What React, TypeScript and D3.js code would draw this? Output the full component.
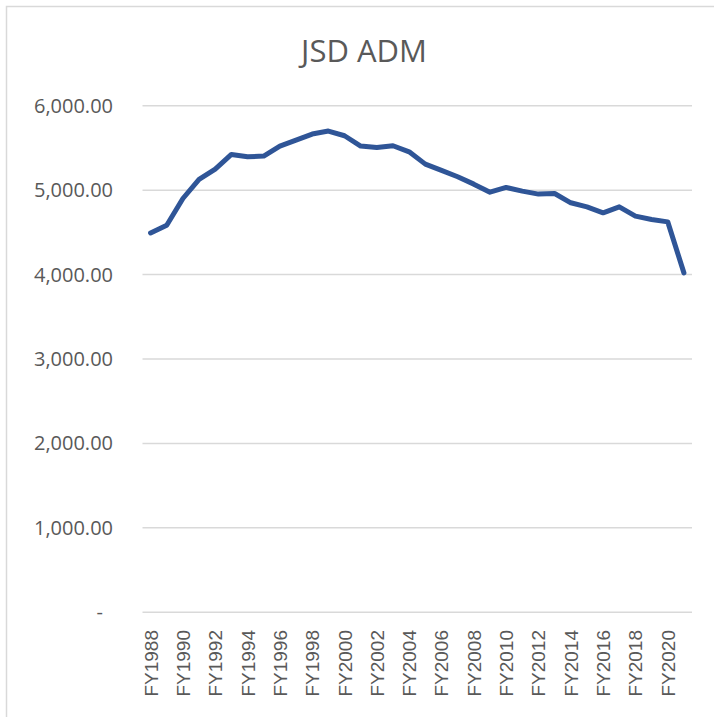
import { useEffect, useRef } from "react";
import * as d3 from "d3";

const years = d3.range(1988, 2022).map((y) => `FY${y}`);

const adm = [
  4493, 4585, 4901, 5127, 5249, 5423, 5395, 5403, 5522, 5593, 5664, 5700,
  5644, 5522, 5506, 5526, 5454, 5308, 5234, 5158, 5071, 4976, 5032, 4988,
  4953, 4960, 4850, 4802, 4731, 4802, 4692, 4652, 4624, 4020,
];

const yTicks = [0, 1000, 2000, 3000, 4000, 5000, 6000];

const W = 714;
const H = 717;

export default function App() {
  const svgRef = useRef<SVGSVGElement>(null);

  useEffect(() => {
    if (!svgRef.current) return;
    const svg = d3.select(svgRef.current);
    svg.selectAll("*").remove();

    // plot area
    const left = 142.5;
    const right = 692;
    const top = 105.7;
    const bottom = 612.3;

    const x = d3.scaleBand<string>().domain(years).range([left, right]);
    const y = d3.scaleLinear().domain([0, 6000]).range([bottom, top]);

    svg.append("rect").attr("width", W).attr("height", H).attr("fill", "white");

    // chart border
    svg
      .append("rect")
      .attr("x", 6.5)
      .attr("y", 6.5)
      .attr("width", W + 20)
      .attr("height", H + 20)
      .attr("fill", "none")
      .attr("stroke", "#d9d9d9")
      .attr("stroke-width", 1.5);

    // title
    svg
      .append("text")
      .attr("x", 364)
      .attr("y", 62)
      .attr("text-anchor", "middle")
      .attr("font-family", "'Open Sans', sans-serif")
      .attr("font-size", 31)
      .attr("fill", "#595959")
      .text("JSD ADM");

    // gridlines
    svg
      .append("g")
      .selectAll("line")
      .data(yTicks)
      .join("line")
      .attr("x1", left)
      .attr("x2", right)
      .attr("y1", (d) => y(d))
      .attr("y2", (d) => y(d))
      .attr("stroke", "#d9d9d9")
      .attr("stroke-width", 1.5);

    // y labels
    const fmt = d3.format(",.2f");
    svg
      .append("g")
      .selectAll("text")
      .data(yTicks)
      .join("text")
      .attr("x", (d) => (d === 0 ? 103 : 113))
      .attr("y", (d) => y(d))
      .attr("dy", "0.35em")
      .attr("text-anchor", "end")
      .attr("font-family", "'Open Sans', sans-serif")
      .attr("font-size", 20)
      .attr("fill", "#595959")
      .text((d) => (d === 0 ? "-" : fmt(d)));

    // x labels, every other year
    svg
      .append("g")
      .selectAll("text")
      .data(years.filter((_, i) => i % 2 === 0))
      .join("text")
      .attr(
        "transform",
        (d) => `translate(${(x(d) ?? 0) + x.bandwidth() / 2 + 7},630) rotate(-90)`
      )
      .attr("text-anchor", "end")
      .attr("font-family", "'Liberation Sans', Arial, sans-serif")
      .attr("font-size", 19)
      .attr("fill", "#595959")
      .text((d) => d);

    // line
    const line = d3
      .line<number>()
      .x((_, i) => (x(years[i]) ?? 0) + x.bandwidth() / 2)
      .y((d) => y(d))
      .curve(d3.curveLinear);

    svg
      .append("path")
      .datum(adm)
      .attr("d", line)
      .attr("fill", "none")
      .attr("stroke", "#2f5597")
      .attr("stroke-width", 5)
      .attr("stroke-linejoin", "round")
      .attr("stroke-linecap", "round");
  }, []);

  return (
    <svg
      ref={svgRef}
      width={W}
      height={H}
      style={{ position: "absolute", left: 0, top: 0 }}
    />
  );
}
